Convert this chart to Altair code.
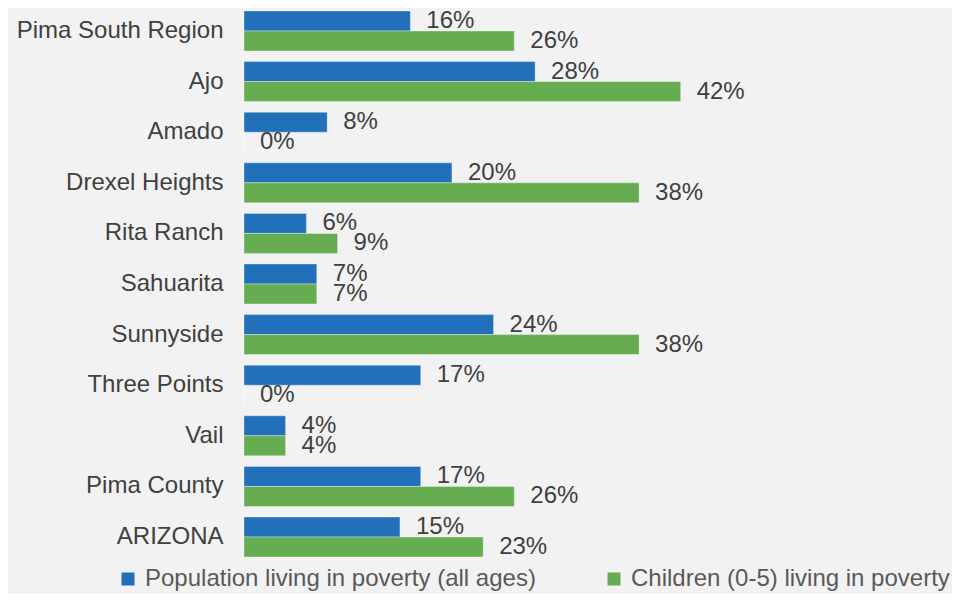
import altair as alt
import pandas as pd

categories = ["Pima South Region", "Ajo", "Amado", "Drexel Heights", "Rita Ranch",
              "Sahuarita", "Sunnyside", "Three Points", "Vail", "Pima County", "ARIZONA"]
series = ["Population living in poverty (all ages)", "Children (0-5) living in poverty"]
population = [0.16, 0.28, 0.08, 0.20, 0.06, 0.07, 0.24, 0.17, 0.04, 0.17, 0.15]
children = [0.26, 0.42, 0.00, 0.38, 0.09, 0.07, 0.38, 0.00, 0.04, 0.26, 0.23]
colors = ["#2270ba", "#65ad50"]

rows = []
for c, p, k in zip(categories, population, children):
    rows.append({"Region": c, "Series": series[0], "Value": p})
    rows.append({"Region": c, "Series": series[1], "Value": k})
df = pd.DataFrame(rows)

FONT = "Liberation Sans"

y = alt.Y("Region:N", sort=categories, title=None,
          scale=alt.Scale(paddingInner=0.21, paddingOuter=0),
          axis=alt.Axis(ticks=False, domain=False, labelFont=FONT, labelFontSize=24,
                        labelColor="#404040", labelPadding=21, labelLimit=400))
yoff = alt.YOffset("Series:N", sort=series, scale=alt.Scale(paddingInner=0, paddingOuter=0))
x = alt.X("Value:Q", title=None, scale=alt.Scale(domain=[0, 0.68], nice=False),
          axis=None)

bars = alt.Chart(df).mark_bar(stroke="white", strokeOpacity=0.35, strokeWidth=1).encode(
    x=x, y=y, yOffset=yoff,
    color=alt.Color("Series:N", sort=series,
                    scale=alt.Scale(domain=series, range=colors),
                    legend=alt.Legend(title=None, orient="none", legendX=-128, legendY=556,
                                      direction="horizontal", symbolType="square",
                                      symbolSize=169, symbolStrokeWidth=0,
                                      labelFont=FONT, labelFontSize=24,
                                      labelColor="#595959", labelOffset=5,
                                      columnPadding=66, labelLimit=600)),
)

labels = alt.Chart(df).mark_text(align="left", baseline="middle", dx=16,
                                 font=FONT, fontSize=24, color="#404040").encode(
    x=x, y=y, yOffset=yoff,
    text=alt.Text("Value:Q", format=".0%"),
)

chart = (bars + labels).properties(
    width=707, height=546,
    background="#f2f2f2",
    padding={"left": 236, "top": 3, "right": 1, "bottom": 37},
    autosize=alt.AutoSizeParams(type="none"),
).configure_view(stroke=None)

chart.save("out.html", embed_options={"renderer": "svg", "actions": False})
